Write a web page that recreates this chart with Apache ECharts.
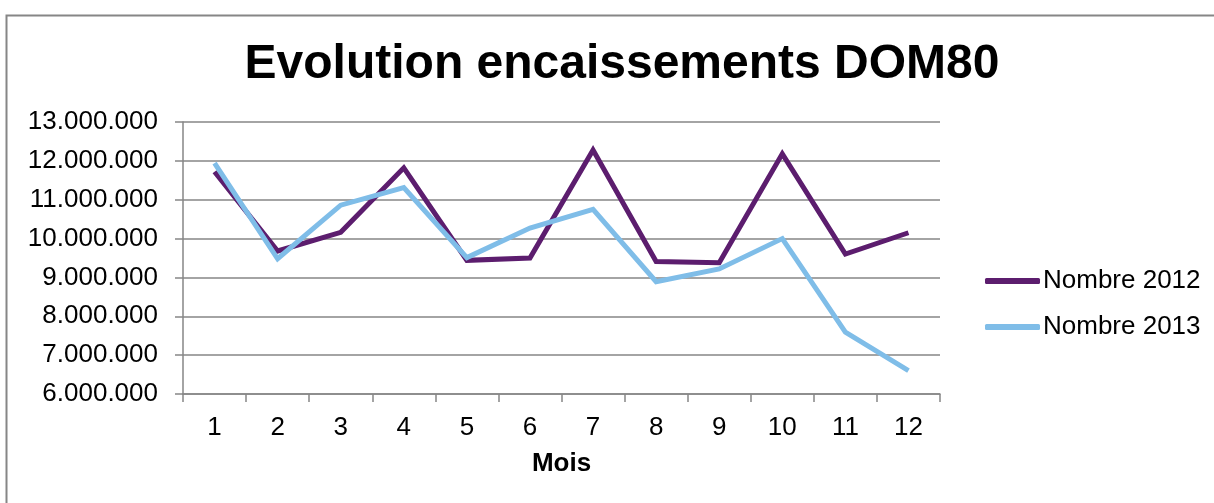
<!DOCTYPE html>
<html>
<head>
<meta charset="utf-8">
<script src="https://cdn.jsdelivr.net/npm/echarts@6/dist/echarts.min.js"></script>
<style>
html,body{margin:0;padding:0;background:#fff;}
#chart{width:1214px;height:503px;}
</style>
</head>
<body>
<div id="chart"></div>
<script>
const months = ['1','2','3','4','5','6','7','8','9','10','11','12'];
const nombre2012 = [11720000, 9680000, 10160000, 11820000, 9440000, 9500000, 12280000, 9410000, 9380000, 12180000, 9600000, 10150000];
const nombre2013 = [11940000, 9480000, 10860000, 11310000, 9510000, 10270000, 10750000, 8890000, 9220000, 10000000, 7590000, 6600000];
const seriesNames = ['Nombre 2012', 'Nombre 2013'];
const titleText = 'Evolution encaissements DOM80';
const xAxisName = 'Mois';

const fmt = v => String(Math.round(v)).replace(/\B(?=(\d{3})+(?!\d))/g, '.');

const chart = echarts.init(document.getElementById('chart'), null, {renderer: 'canvas'});
const font = 'Liberation Sans, Arial, sans-serif';
chart.setOption({
  animation: false,
  backgroundColor: '#ffffff',
  textStyle: {fontFamily: font},
  graphic: [{
    type: 'rect', left: 4, top: 13, z: -1,
    shape: {width: 1230, height: 510},
    style: {fill: 'none', stroke: '#868686', lineWidth: 2}
  }],
  title: {
    text: titleText,
    left: 617, textAlign: 'center', top: 36,
    textStyle: {fontFamily: font, fontSize: 48, fontWeight: 'bold', color: '#000'}
  },
  legend: {
    orient: 'vertical',
    left: 980, top: 263,
    itemWidth: 55, itemHeight: 6, itemGap: 20,
    icon: 'roundRect',
    textStyle: {fontFamily: font, fontSize: 26, color: '#000', padding: [0,0,0,-2]},
    data: seriesNames
  },
  grid: {left: 183, top: 122, right: 274, bottom: 109, containLabel: false},
  xAxis: {
    type: 'category', data: months, boundaryGap: true,
    name: xAxisName, nameLocation: 'middle', nameGap: 57,
    nameTextStyle: {fontFamily: font, fontSize: 26, fontWeight: 'bold', color: '#000'},
    axisLine: {lineStyle: {color: '#868686', width: 1.5}},
    axisTick: {show: true, length: 8, interval: 0, lineStyle: {color: '#868686', width: 1.5}},
    axisLabel: {fontFamily: font, fontSize: 26, color: '#000', margin: 21, interval: 0}
  },
  yAxis: {
    type: 'value', min: 6000000, max: 13000000, interval: 1000000,
    axisLine: {show: true, lineStyle: {color: '#868686', width: 1.5}},
    axisTick: {show: true, length: 8, lineStyle: {color: '#868686', width: 1.5}},
    axisLabel: {fontFamily: font, fontSize: 26, color: '#000', margin: 25, formatter: fmt},
    splitLine: {show: true, lineStyle: {color: '#868686', width: 1.5}}
  },
  series: [
    {name: seriesNames[0], type: 'line', data: nombre2012, showSymbol: false, symbol: 'none',
     lineStyle: {color: '#5c1d6e', width: 5, join: 'miter'}, itemStyle: {color: '#5c1d6e'}},
    {name: seriesNames[1], type: 'line', data: nombre2013, showSymbol: false, symbol: 'none',
     lineStyle: {color: '#7fbde8', width: 5, join: 'miter'}, itemStyle: {color: '#7fbde8'}}
  ]
});
</script>
</body>
</html>
